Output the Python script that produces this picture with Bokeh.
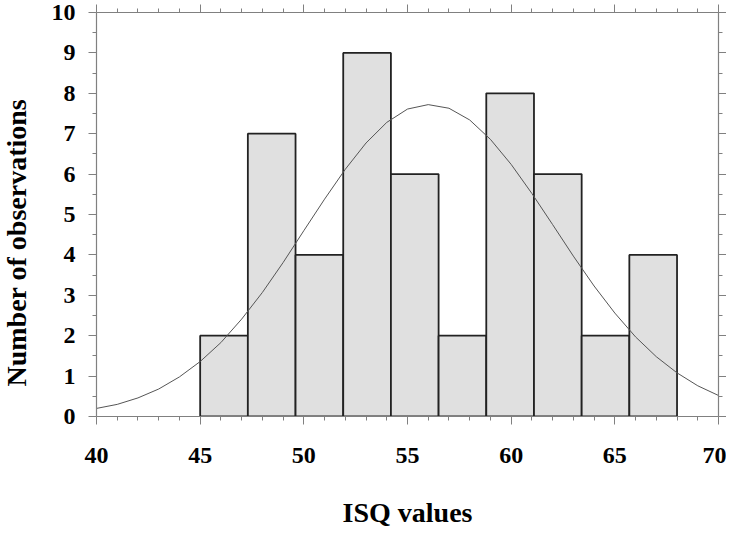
import math
from bokeh.plotting import figure
from bokeh.models import (LinearAxis, Range1d, FixedTicker, Title,
                          ColumnDataSource, CustomLabelingPolicy)
from bokeh.embed import file_html
from bokeh.resources import INLINE

# ---- data ----
x_start, x_end = 40, 70
y_start, y_end = 0, 10
x_ticks = [40, 45, 50, 55, 60, 65, 70]
x_minor = [41, 42, 43, 44, 46, 47, 48, 49, 51, 52, 53, 54, 56, 57, 58, 59,
           61, 62, 63, 64, 66, 67, 68, 69]
y_ticks = [0, 1, 2, 3, 4, 5, 6, 7, 8, 9, 10]
y_minor = [0.5, 1.5, 2.5, 3.5, 4.5, 5.5, 6.5, 7.5, 8.5, 9.5]

bin_left = [45.0, 47.3, 49.6, 51.9, 54.2, 56.5, 58.8, 61.1, 63.4, 65.7]
bin_right = [47.3, 49.6, 51.9, 54.2, 56.5, 58.8, 61.1, 63.4, 65.7, 68.0]
counts = [2, 7, 4, 9, 6, 2, 8, 6, 2, 4]

curve_x = [40, 41, 42, 43, 44, 45, 46, 47, 48, 49, 50, 51, 52, 53, 54, 55,
           56, 57, 58, 59, 60, 61, 62, 63, 64, 65, 66, 67, 68, 69, 70]
curve_y = [0.20, 0.30, 0.46, 0.68, 0.98, 1.36, 1.83, 2.41, 3.07, 3.81, 4.60,
           5.38, 6.12, 6.77, 7.28, 7.61, 7.72, 7.63, 7.34, 6.86, 6.24, 5.52,
           4.75, 3.97, 3.23, 2.56, 1.97, 1.48, 1.08, 0.76, 0.52]

x_title = "ISQ values"
y_title = "Number of observations"

FONT = "Liberation Serif"
AXIS_GREY = "#808080"

p = figure(width=726, height=530,
           x_range=Range1d(x_start, x_end), y_range=Range1d(y_start, y_end),
           output_backend="svg", toolbar_location=None,
           x_axis_location=None, y_axis_location=None,
           min_border_left=95, min_border_right=5,
           min_border_top=12, min_border_bottom=112)
p.grid.visible = False
p.outline_line_color = None
p.background_fill_color = "white"
p.border_fill_color = "white"

bars = ColumnDataSource(dict(left=bin_left, right=bin_right, top=counts,
                             bottom=[0] * len(counts)))
p.quad(left="left", right="right", top="top", bottom="bottom", source=bars,
       fill_color="#e0e0e0", line_color="#222222", line_width=1.8)

p.line(curve_x, curve_y, line_color="#555555", line_width=1)

hide_labels = CustomLabelingPolicy(code="""
    const n = indices.size;
    if (typeof indices.unset === "function") {
        for (let i = 0; i < n; i++) { indices.unset(i); }
    }
    return indices;
""")


def style(ax, ticks, minor, show_labels):
    ax.ticker = FixedTicker(ticks=ticks, minor_ticks=minor)
    ax.axis_line_color = AXIS_GREY
    ax.axis_line_width = 1.2
    ax.major_tick_line_color = AXIS_GREY
    ax.minor_tick_line_color = AXIS_GREY
    ax.major_tick_out = 8
    ax.major_tick_in = 0
    ax.minor_tick_out = 4
    ax.minor_tick_in = 0
    if show_labels:
        ax.major_label_text_font = FONT
        ax.major_label_text_font_style = "bold"
        ax.major_label_text_font_size = "24px"
        ax.major_label_text_line_height = 0.9
        ax.major_label_text_color = "black"
    else:
        ax.major_label_policy = hide_labels
        ax.major_label_text_font_size = "0px"
        ax.major_label_standoff = 0


xb = LinearAxis()
style(xb, x_ticks, x_minor, True)
xb.major_label_standoff = 23
xb.axis_label = x_title
xb.axis_label_text_font = FONT
xb.axis_label_text_font_style = "bold"
xb.axis_label_text_font_size = "28px"
xb.axis_label_text_color = "black"
xb.axis_label_standoff = 31
p.add_layout(xb, "below")

yl = LinearAxis()
style(yl, y_ticks, y_minor, True)
yl.major_label_standoff = 13
p.add_layout(yl, "left")

# invisible spacer between the tick labels and the y title
spacer = LinearAxis()
style(spacer, y_ticks, [], False)
spacer.axis_line_color = None
spacer.major_tick_line_color = None
spacer.minor_tick_line_color = None
spacer.major_tick_out = 15
spacer.minor_tick_out = 0
p.add_layout(spacer, "left")

ytitle = Title(text=y_title, align="left", offset=30, standoff=0,
               vertical_align="top",
               text_font=FONT, text_font_style="bold",
               text_font_size="28px", text_color="black")
p.add_layout(ytitle, "left")

xt = LinearAxis()
style(xt, x_ticks, x_minor, False)
p.add_layout(xt, "above")

yr = LinearAxis()
style(yr, y_ticks, y_minor, False)
p.add_layout(yr, "right")

open("out.html", "w").write(file_html(p, INLINE))
